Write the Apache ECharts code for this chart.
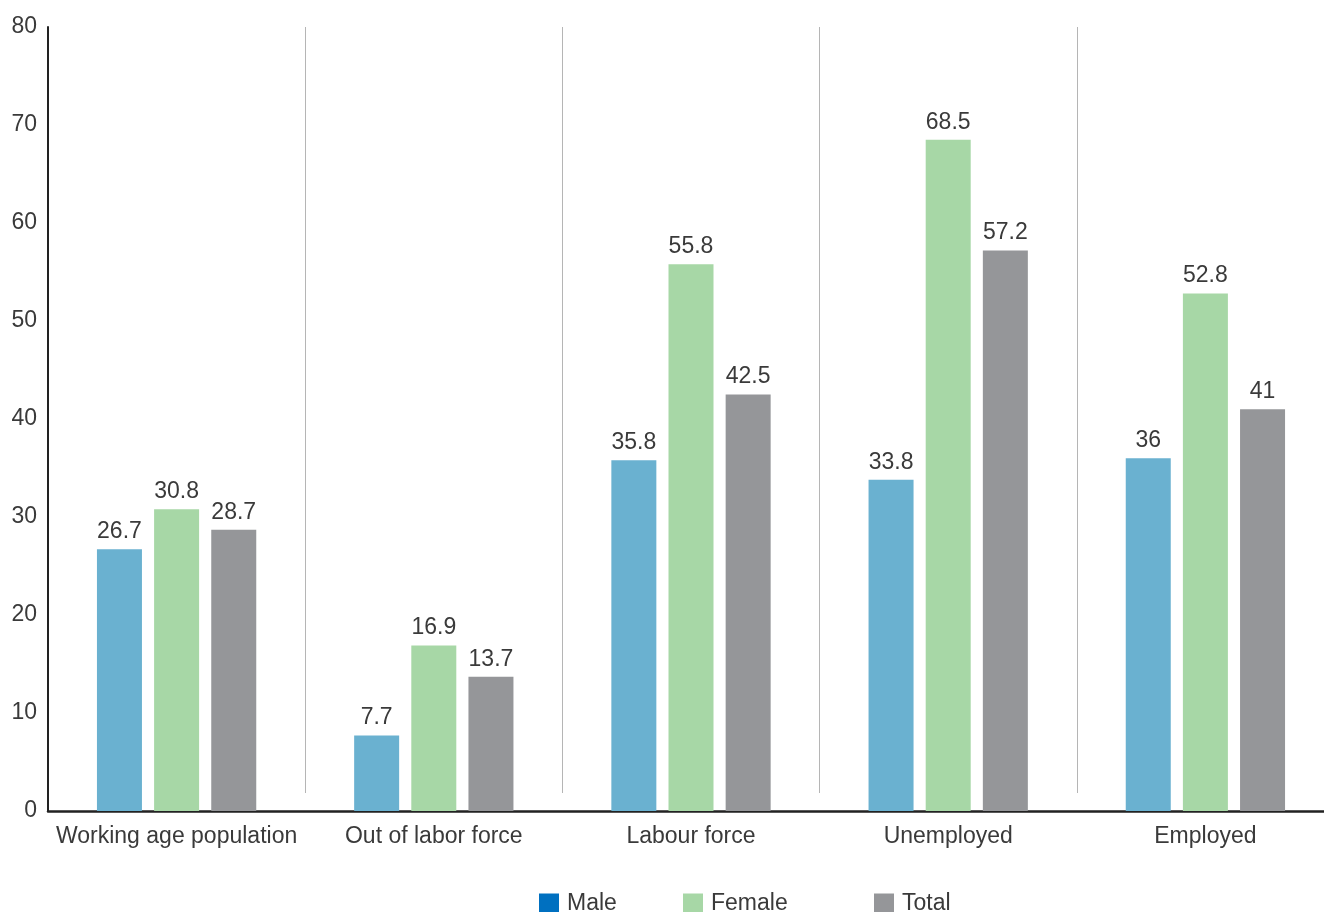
<!DOCTYPE html>
<html><head><meta charset="utf-8">
<script src="https://cdn.jsdelivr.net/npm/echarts@6/dist/echarts.min.js"></script>
<style>html,body{margin:0;padding:0;background:#fff}#c{width:1324px;height:912px}</style>
</head><body><div id="c"></div>
<script>
const categories = ['Working age population','Out of labor force','Labour force','Unemployed','Employed'];
const male = [26.7, 7.7, 35.8, 33.8, 36];
const female = [30.8, 16.9, 55.8, 68.5, 52.8];
const total = [28.7, 13.7, 42.5, 57.2, 41];
const yTicks = [0,10,20,30,40,50,60,70,80];

const FONT = '"Liberation Sans", Arial, sans-serif';
const TXT = '#3a3a3a';
const FS = 23;
const chart = echarts.init(document.getElementById('c'));
const lbl = {show:true, position:'top', distance:6, color:TXT, fontSize:FS, fontFamily:FONT};
function mkLegend(name, color, left){
  return {left:left, top:892, padding:0, itemWidth:20, itemHeight:20, icon:'rect', selectedMode:false,
    data:[{name:name, itemStyle:{color:color}}],
    textStyle:{color:TXT, fontSize:FS, fontFamily:FONT, padding:[0,0,0,3]}};
}
chart.setOption({
  animation:false,
  backgroundColor:'#fff',
  legend:[mkLegend('Male','#0070C0',539), mkLegend('Female','#A7D7A6',683), mkLegend('Total','#959699',874)],
  grid:[
    {left:48, width:1286, top:27, bottom:101, containLabel:false, outerBoundsMode:'none'},
    {left:48, width:1286, top:27, bottom:119, containLabel:false, outerBoundsMode:'none'}
  ],
  xAxis:[
    {type:'category', data:categories, gridIndex:0,
     axisLine:{lineStyle:{color:'#222', width:2.5}}, axisTick:{show:false},
     axisLabel:{color:TXT, fontSize:FS, fontFamily:FONT, margin:14, interval:0},
     splitLine:{show:false}},
    {type:'category', data:categories, gridIndex:1,
     axisLine:{show:false}, axisTick:{show:false}, axisLabel:{show:false},
     splitLine:{show:true, interval:0, lineStyle:{color:'#b5b5b5', width:1}}}
  ],
  yAxis:[
    {type:'value', min:yTicks[0], max:yTicks[yTicks.length-1], interval:10, gridIndex:0,
     axisLine:{show:true, lineStyle:{color:'#222', width:2}}, axisTick:{show:false},
     axisLabel:{color:TXT, fontSize:FS, fontFamily:FONT, margin:11},
     splitLine:{show:false}},
    {type:'value', min:0, max:80, gridIndex:1, show:false, splitLine:{show:false}}
  ],
  series:[
    {name:'Male', type:'bar', data:male, barWidth:45, barGap:'27%', barCategoryGap:'38%', itemStyle:{color:'#6AB1D0'}, label:lbl},
    {name:'Female', type:'bar', data:female, barWidth:45, barGap:'27%', itemStyle:{color:'#A7D7A6'}, label:lbl},
    {name:'Total', type:'bar', data:total, barWidth:45, barGap:'27%', itemStyle:{color:'#959699'}, label:lbl}
  ]
});
</script></body></html>
